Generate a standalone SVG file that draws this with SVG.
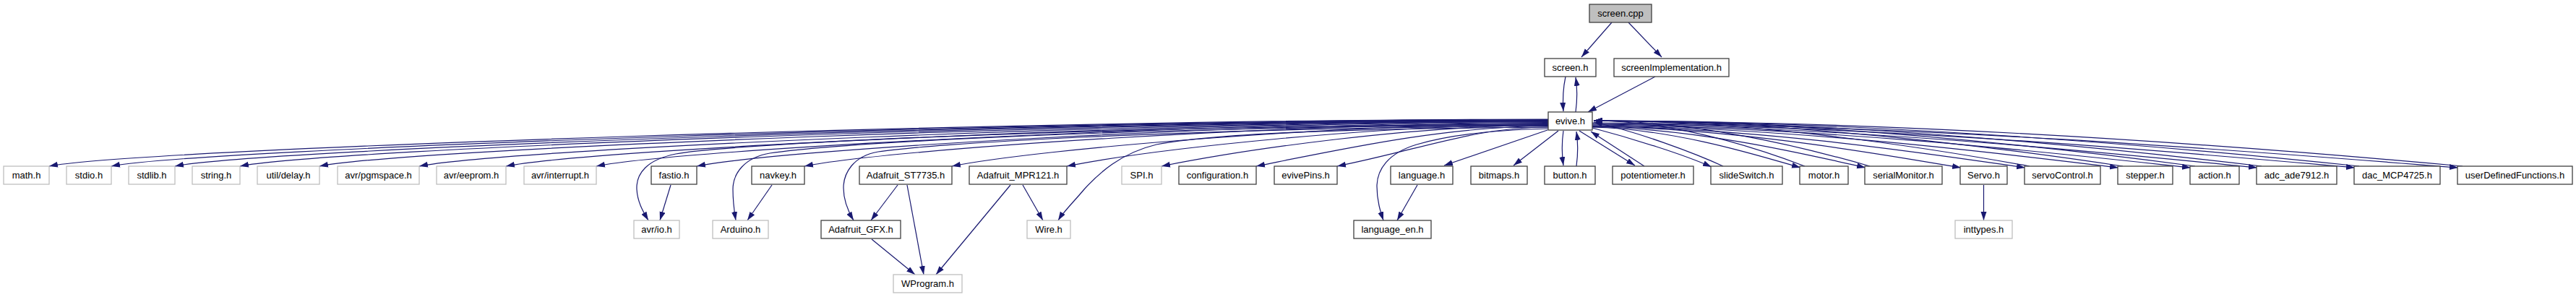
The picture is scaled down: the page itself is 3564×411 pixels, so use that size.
<svg xmlns="http://www.w3.org/2000/svg" width="3564" height="411" viewBox="0 0 3564 411">
<defs>
<marker id="ah" markerUnits="userSpaceOnUse" markerWidth="13" markerHeight="9" refX="12" refY="4" orient="auto">
<path d="M0,0 L12,4 L0,8 z" fill="#191970"/>
</marker>
<style>
.n rect{fill:#ffffff;stroke:#404040;stroke-width:1.3}
.x rect{fill:#ffffff;stroke:#bfbfbf;stroke-width:1.3}
.r rect{fill:#bfbfbf;stroke:#404040;stroke-width:1.3}
text{font-family:"Liberation Sans",Arial,Helvetica,sans-serif;font-size:13px;text-anchor:middle;fill:#000000}
#edges path{fill:none;stroke:#191970;stroke-width:1.2;marker-end:url(#ah)}
</style>
</defs>
<rect width="3564" height="411" fill="#ffffff"/>
<g id="edges">
<path d="M2230,31 L2188,79"/>
<path d="M2253,31 L2299,79"/>
<path d="M2290,106 L2197,155"/>
<path d="M2166,106 C2163,120 2162,140 2163,154"/>
<path d="M2180,155 C2182,140 2182,120 2180,107"/>
<path d="M2163,181 C2161,195 2161,215 2163,229"/>
<path d="M2181,230 C2183,215 2183,195 2181,182"/>
<path d="M2156,181 L2094,229"/>
<path d="M2141,180 L1998,229"/>
<path d="M2185,181 L2262,229"/>
<path d="M2275,230 L2201,182"/>
<path d="M2142,165 C1416,165 188,206 68,230"/>
<path d="M2142,165.5 C1446,165.5 274,206 154,230"/>
<path d="M2142,166 C1477,166 362,206 242,230"/>
<path d="M2142,166.5 C1508,166.5 452,206 332,230"/>
<path d="M2142,167 C1547,167 562,206 442,230"/>
<path d="M2142,167.5 C1595,167.5 700,206 580,230"/>
<path d="M2142,168 C1637,168 820,206 700,230"/>
<path d="M2142,168.5 C1681,168.5 945,206 825,230"/>
<path d="M2142,169.5 C1730,169.5 1084,206 964,230"/>
<path d="M2142,170.5 C1782,170.5 1233,206 1113,230"/>
<path d="M2142,171.5 C1853,171.5 1437,206 1317,230"/>
<path d="M2142,172.5 C1909,172.5 1596,206 1476,230"/>
<path d="M2142,173.5 C1955,173.5 1727,206 1607,230"/>
<path d="M2142,174.5 C2001,174.5 1858,206 1738,230"/>
<path d="M2142,176 C2040,176 1967,206.6 1850,230"/>
<path d="M2142,172 C1500,174 1000,200 935,213 C895,221 880,240 881,262 C882,280 890,293 897,305"/>
<path d="M2142,173 C1500,176 1150,200 1065,212 C1030,218 1014,240 1014,262 C1014,280 1016,293 1018,305"/>
<path d="M2142,174 C1600,178 1280,200 1215,210 C1180,216 1167,240 1167,260 C1167,280 1175,295 1181,305"/>
<path d="M2142,176 C1850,178 1680,185 1600,200 C1550,212 1520,240 1500,262 C1485,280 1472,292 1464,305"/>
<path d="M2142,178 C2060,180 2000,188 1960,200 C1920,212 1905,235 1905,258 C1905,278 1910,293 1914,305"/>
<path d="M1961,256 L1933,305"/>
<path d="M928,256 L913,305"/>
<path d="M1068,256 L1034,305"/>
<path d="M1242,256 L1205,305"/>
<path d="M1255,256 L1278,380"/>
<path d="M1206,331 L1266,380"/>
<path d="M1398,256 L1295,380"/>
<path d="M1415,256 L1443,305"/>
<path d="M2744.5,256 L2744.5,305"/>
<path d="M2203,177 C2260,192 2330,214 2368,231"/>
<path d="M2384,230 C2345,212 2265,182 2205,169"/>
<path d="M2203,176 C2318,178.8 2433,215.2 2491,232"/>
<path d="M2203,175.5 C2354,178.3 2505,215 2581,232"/>
<path d="M2203,175 C2407,177.9 2611,214.9 2713,232"/>
<path d="M2203,174.5 C2443,177.4 2682,214.8 2802,232"/>
<path d="M2203,174 C2494,176.9 2785,214.6 2931,232"/>
<path d="M2203,173 C2534,176 2865,214.3 3031,232"/>
<path d="M2203,172 C2571,175 2939,214 3123,232"/>
<path d="M2203,171 C2625,174 3047,213.7 3258,232"/>
<path d="M2203,170 C2682,173.1 3161,213.4 3401,232"/>
<path d="M2497,230 C2439,208 2322,168 2205,167"/>
<path d="M2587,230 C2511,208 2358,168 2205,167"/>
<path d="M2808,230 C2687,208 2446,168 2205,167"/>
<path d="M2937,230 C2791,208 2498,168 2205,167"/>
<path d="M3037,230 C2871,208 2538,168 2205,167"/>
<path d="M3129,230 C2944,208 2575,168 2205,167"/>
<path d="M3264,230 C3052,208 2629,168 2205,167"/>
<path d="M3407,230 C3167,208 2686,168 2205,167"/>
</g>
<g id="n_screen_cpp" class="r"><rect x="2199" y="6" width="86" height="25"/><text x="2242" y="23">screen.cpp</text></g>
<g id="n_screen_h" class="n"><rect x="2137" y="81" width="71" height="25"/><text x="2172.5" y="98">screen.h</text></g>
<g id="n_screenImplementation_h" class="n"><rect x="2233" y="81" width="159" height="25"/><text x="2312.5" y="98">screenImplementation.h</text></g>
<g id="n_evive_h" class="n"><rect x="2142" y="155" width="61" height="25"/><text x="2172.5" y="172">evive.h</text></g>
<g id="n_math_h" class="x"><rect x="5" y="230" width="63" height="25"/><text x="36.5" y="247">math.h</text></g>
<g id="n_stdio_h" class="x"><rect x="92" y="230" width="62" height="25"/><text x="123" y="247">stdio.h</text></g>
<g id="n_stdlib_h" class="x"><rect x="178" y="230" width="64" height="25"/><text x="210" y="247">stdlib.h</text></g>
<g id="n_string_h" class="x"><rect x="266" y="230" width="66" height="25"/><text x="299" y="247">string.h</text></g>
<g id="n_util_delay_h" class="x"><rect x="356" y="230" width="86" height="25"/><text x="399" y="247">util/delay.h</text></g>
<g id="n_avr_pgmspace_h" class="x"><rect x="467" y="230" width="113" height="25"/><text x="523.5" y="247">avr/pgmspace.h</text></g>
<g id="n_avr_eeprom_h" class="x"><rect x="604" y="230" width="96" height="25"/><text x="652" y="247">avr/eeprom.h</text></g>
<g id="n_avr_interrupt_h" class="x"><rect x="725" y="230" width="100" height="25"/><text x="775" y="247">avr/interrupt.h</text></g>
<g id="n_fastio_h" class="n"><rect x="901" y="230" width="63" height="25"/><text x="932.5" y="247">fastio.h</text></g>
<g id="n_navkey_h" class="n"><rect x="1040" y="230" width="73" height="25"/><text x="1076.5" y="247">navkey.h</text></g>
<g id="n_Adafruit_ST7735_h" class="n"><rect x="1189" y="230" width="128" height="25"/><text x="1253" y="247">Adafruit_ST7735.h</text></g>
<g id="n_Adafruit_MPR121_h" class="n"><rect x="1341" y="230" width="135" height="25"/><text x="1408.5" y="247">Adafruit_MPR121.h</text></g>
<g id="n_SPI_h" class="x"><rect x="1552" y="230" width="55" height="25"/><text x="1579.5" y="247">SPI.h</text></g>
<g id="n_configuration_h" class="n"><rect x="1631" y="230" width="107" height="25"/><text x="1684.5" y="247">configuration.h</text></g>
<g id="n_evivePins_h" class="n"><rect x="1763" y="230" width="87" height="25"/><text x="1806.5" y="247">evivePins.h</text></g>
<g id="n_language_h" class="n"><rect x="1924" y="230" width="86" height="25"/><text x="1967" y="247">language.h</text></g>
<g id="n_bitmaps_h" class="n"><rect x="2035" y="230" width="78" height="25"/><text x="2074" y="247">bitmaps.h</text></g>
<g id="n_button_h" class="n"><rect x="2137" y="230" width="70" height="25"/><text x="2172" y="247">button.h</text></g>
<g id="n_potentiometer_h" class="n"><rect x="2231" y="230" width="112" height="25"/><text x="2287" y="247">potentiometer.h</text></g>
<g id="n_slideSwitch_h" class="n"><rect x="2367" y="230" width="99" height="25"/><text x="2416.5" y="247">slideSwitch.h</text></g>
<g id="n_motor_h" class="n"><rect x="2490" y="230" width="67" height="25"/><text x="2523.5" y="247">motor.h</text></g>
<g id="n_serialMonitor_h" class="n"><rect x="2580" y="230" width="107" height="25"/><text x="2633.5" y="247">serialMonitor.h</text></g>
<g id="n_Servo_h" class="n"><rect x="2712" y="230" width="65" height="25"/><text x="2744.5" y="247">Servo.h</text></g>
<g id="n_servoControl_h" class="n"><rect x="2801" y="230" width="105" height="25"/><text x="2853.5" y="247">servoControl.h</text></g>
<g id="n_stepper_h" class="n"><rect x="2930" y="230" width="76" height="25"/><text x="2968" y="247">stepper.h</text></g>
<g id="n_action_h" class="n"><rect x="3030" y="230" width="68" height="25"/><text x="3064" y="247">action.h</text></g>
<g id="n_adc_ade7912_h" class="n"><rect x="3122" y="230" width="111" height="25"/><text x="3177.5" y="247">adc_ade7912.h</text></g>
<g id="n_dac_MCP4725_h" class="n"><rect x="3257" y="230" width="119" height="25"/><text x="3316.5" y="247">dac_MCP4725.h</text></g>
<g id="n_userDefinedFunctions_h" class="n"><rect x="3400" y="230" width="159" height="25"/><text x="3479.5" y="247">userDefinedFunctions.h</text></g>
<g id="n_avr_io_h" class="x"><rect x="877" y="305" width="63" height="25"/><text x="908.5" y="322">avr/io.h</text></g>
<g id="n_Arduino_h" class="x"><rect x="986" y="305" width="77" height="25"/><text x="1024.5" y="322">Arduino.h</text></g>
<g id="n_Adafruit_GFX_h" class="n"><rect x="1136" y="305" width="110" height="25"/><text x="1191" y="322">Adafruit_GFX.h</text></g>
<g id="n_Wire_h" class="x"><rect x="1421" y="305" width="60" height="25"/><text x="1451" y="322">Wire.h</text></g>
<g id="n_language_en_h" class="n"><rect x="1873" y="305" width="107" height="25"/><text x="1926.5" y="322">language_en.h</text></g>
<g id="n_inttypes_h" class="x"><rect x="2705" y="305" width="79" height="25"/><text x="2744.5" y="322">inttypes.h</text></g>
<g id="n_WProgram_h" class="x"><rect x="1236" y="380" width="95" height="25"/><text x="1283.5" y="397">WProgram.h</text></g>
</svg>
